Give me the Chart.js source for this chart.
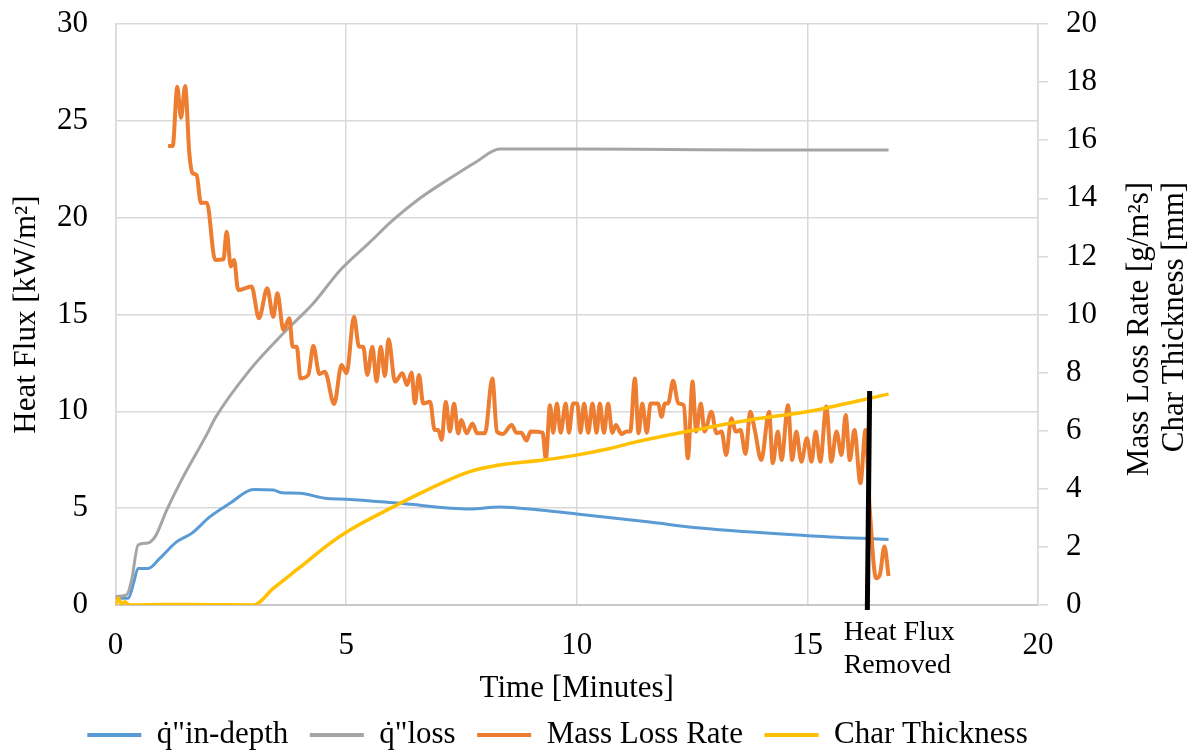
<!DOCTYPE html>
<html>
<head>
<meta charset="utf-8">
<title>Heat flux and mass loss rate</title>
<script src="https://cdn.jsdelivr.net/npm/chart.js@4/dist/chart.umd.min.js"></script>
<style>
  body { margin: 0; background: #fff; }
  #wrap { width: 1199px; height: 754px; position: relative; }
</style>
</head>
<body>
<div id="wrap"><canvas id="chart"></canvas></div>
<script>
// Data (time in minutes)
const inDepthTime = [0, 0.28, 0.39, 0.49, 0.71, 0.96, 1.33, 1.65, 2.05, 2.48, 2.99, 3.42, 3.6, 4.0, 4.54, 5.01, 6.17, 7.68, 8.33, 9.2, 10.0, 11.58, 12.67, 15.0, 16.76];
const inDepthFlux = [0.35, 0.35, 1.12, 1.89, 1.89, 2.41, 3.27, 3.7, 4.56, 5.25, 5.97, 5.94, 5.8, 5.77, 5.51, 5.46, 5.25, 4.96, 5.06, 4.9, 4.7, 4.28, 3.97, 3.58, 3.38];

const lossTime = [0, 0.24, 0.35, 0.49, 0.68, 0.86, 1.11, 1.43, 2.0, 2.16, 2.91, 3.64, 4.29, 4.87, 5.5, 6.02, 6.6, 7.25, 7.8, 8.33, 10, 12, 14, 16.76];
const lossFlux = [0.43, 0.52, 1.29, 3.1, 3.19, 3.53, 4.9, 6.45, 8.9, 9.65, 12.13, 14.03, 15.58, 17.29, 18.7, 19.88, 21.0, 22.03, 22.85, 23.54, 23.54, 23.52, 23.5, 23.5];

const mlrTime = [1.14,1.24,1.34,1.42,1.51,1.60,1.67,1.76,1.85,1.98,
  2.16,2.34,2.41,2.50,2.57,2.66,2.95,3.11,3.29,3.42,
  3.51,3.64,3.77,3.84,3.93,4.01,4.18,4.29,4.42,4.54,
  4.74,4.90,5.01,5.17,5.28,5.37,5.46,5.57,5.66,5.75,
  5.84,5.92,6.06,6.22,6.32,6.42,6.49,6.58,6.67,6.82,
  6.92,7.00,7.07,7.16,7.25,7.34,7.43,7.50,7.61,7.74,
  7.84,8.01,8.17,8.27,8.40,8.59,8.69,8.80,8.91,9.00,
  9.26,9.33,9.42,9.49,9.57,9.65,9.76,9.83,9.92,10.01,
  10.08,10.16,10.25,10.34,10.43,10.50,10.59,10.68,10.77,10.85,
  10.97,11.08,11.16,11.26,11.34,11.42,11.52,11.60,11.76,11.84,
  11.91,11.98,12.09,12.20,12.32,12.41,12.51,12.59,12.69,12.77,
  12.92,13.03,13.14,13.24,13.35,13.45,13.55,13.66,13.76,13.86,
  14.00,14.17,14.25,14.36,14.44,14.58,14.67,14.76,14.87,14.99,
  15.09,15.18,15.28,15.41,15.52,15.63,15.74,15.83,15.92,16.02,
  16.15,16.26,16.35,16.49,16.57,16.67,16.76];
const mlrRate = [15.80,15.80,17.84,16.77,17.87,15.56,14.87,14.80,13.84,13.85,
  11.88,11.90,12.85,11.65,11.88,10.84,10.96,9.87,10.90,9.92,
  10.73,9.47,9.87,8.89,8.89,7.80,7.92,8.92,7.95,8.03,
  6.92,8.26,7.98,9.92,8.89,8.89,7.92,8.89,7.69,8.89,
  7.88,9.15,7.69,7.98,7.57,8.00,6.94,7.92,6.94,7.00,
  6.02,6.02,5.68,7.00,5.97,6.94,5.91,6.37,5.91,6.25,
  5.91,5.91,7.80,5.97,5.89,6.20,5.93,5.93,5.66,5.97,
  5.93,5.02,6.88,5.93,6.94,5.93,6.94,5.93,6.94,6.94,
  5.93,6.94,5.93,6.94,5.93,6.94,5.93,6.94,5.93,6.20,
  5.89,5.97,5.97,7.80,5.91,6.94,5.93,6.94,6.94,6.48,
  6.94,6.94,7.72,6.94,6.88,5.05,7.69,5.97,6.94,5.97,
  6.65,5.91,5.97,5.16,6.43,5.97,6.02,5.20,6.65,6.02,
  4.99,6.65,4.88,5.97,4.99,6.88,4.99,5.97,4.93,5.74,
  4.93,5.97,4.93,6.83,4.93,5.97,5.16,6.54,4.99,6.02,
  4.19,6.02,3.38,0.92,1.03,2.01,1.00];

const charTime = [0, 0.06, 0.13, 0.2, 0.3, 1.0, 2.0, 2.99, 3.42, 4.0, 4.65, 5.08, 6.17, 6.38, 7.68, 8.33, 9.27, 9.99, 10.64, 11.22, 12.38, 13.75, 14.98, 16.76];
const charDepth = [0, 0.23, 0.03, 0.11, 0, 0.02, 0.01, 0, 0.57, 1.3, 2.12, 2.58, 3.5, 3.67, 4.59, 4.82, 4.99, 5.16, 5.36, 5.59, 5.97, 6.37, 6.65, 7.26];

// marker for the moment the heater was removed
const removedTime = [16.35, 16.30];
const removedLevel = [7.37, -0.17];

const xTicks = [0, 5, 10, 15, 20];

const FONT = "'Liberation Serif', 'Times New Roman', serif";
Chart.defaults.font.family = FONT;
Chart.defaults.font.size = 31;
Chart.defaults.color = '#000';

function points(xs, ys) {
  return xs.map((x, i) => ({ x: x, y: ys[i] }));
}

// y axes: don't let the tick padding push the plot area down
function noVerticalPadding(scale) {
  scale.paddingTop = 0;
  scale.paddingBottom = 0;
}

// Extra text: right axis titles and the annotation under the black line
const extraText = {
  id: 'extraText',
  afterDraw(chart) {
    const ctx = chart.ctx;
    const x = chart.scales.x;
    ctx.save();
    ctx.fillStyle = '#000';
    ctx.font = '31px ' + FONT;
    ctx.textAlign = 'center';
    ctx.textBaseline = 'middle';
    ctx.translate(1140, 329);
    ctx.rotate(-Math.PI / 2);
    ctx.fillText('Mass Loss Rate [g/m\u00b2s]', 0, 0);
    ctx.restore();

    ctx.save();
    ctx.fillStyle = '#000';
    ctx.font = '31px ' + FONT;
    ctx.textAlign = 'center';
    ctx.textBaseline = 'middle';
    ctx.translate(1175, 317);
    ctx.rotate(-Math.PI / 2);
    ctx.fillText('Char Thickness [mm]', 0, 0);
    ctx.restore();

    const lx = x.getPixelForValue(removedTime[0]) - 26;
    ctx.save();
    ctx.fillStyle = '#000';
    ctx.font = '28px ' + FONT;
    ctx.textAlign = 'left';
    ctx.textBaseline = 'alphabetic';
    ctx.fillText('Heat Flux', lx, 640);
    ctx.fillText('Removed', lx, 673);
    ctx.restore();
  }
};

new Chart(document.getElementById('chart'), {
  type: 'line',
  data: {
    datasets: [
      {
        label: 'q\u0307"in-depth',
        data: points(inDepthTime, inDepthFlux),
        borderColor: '#5b9bd5',
        backgroundColor: '#5b9bd5',
        borderWidth: 3,
        yAxisID: 'y',
        order: 4,
      },
      {
        label: 'q\u0307"loss',
        data: points(lossTime, lossFlux),
        borderColor: '#a5a5a5',
        backgroundColor: '#a5a5a5',
        borderWidth: 3,
        yAxisID: 'y',
        order: 3,
      },
      {
        label: 'Mass Loss Rate',
        data: points(mlrTime, mlrRate),
        borderColor: '#ed7d31',
        backgroundColor: '#ed7d31',
        borderWidth: 4,
        yAxisID: 'y1',
        order: 2,
      },
      {
        label: 'Char Thickness',
        data: points(charTime, charDepth),
        borderColor: '#ffc000',
        backgroundColor: '#ffc000',
        borderWidth: 3.5,
        yAxisID: 'y1',
        order: 1,
      },
      {
        label: 'removed',
        data: points(removedTime, removedLevel),
        borderColor: '#000',
        backgroundColor: '#000',
        borderWidth: 5,
        yAxisID: 'y1',
        order: 0,
        clip: false,
        cubicInterpolationMode: 'default',
        tension: 0,
      },
    ],
  },
  options: {
    responsive: true,
    maintainAspectRatio: false,
    animation: false,
    events: [],
    elements: {
      point: { radius: 0 },
      line: { cubicInterpolationMode: 'monotone', fill: false },
    },
    layout: { padding: { left: 0, right: 84, top: 24, bottom: -6.5 } },
    scales: {
      x: {
        type: 'linear',
        min: 0,
        max: 20,
        afterBuildTicks: axis => { axis.ticks = xTicks.map(v => ({ value: v })); },
        ticks: { padding: 22 },
        grid: { color: '#d9d9d9', lineWidth: 1.5, drawTicks: false },
        border: { color: '#c8c8c8', width: 2 },
        title: { display: true, text: 'Time [Minutes]', padding: { top: -15.8, bottom: -9.6 } },
      },
      y: {
        position: 'left',
        min: 0,
        max: 30,
        afterFit: noVerticalPadding,
        ticks: { stepSize: 5, padding: 27.5 },
        grid: { color: '#d9d9d9', lineWidth: 1.5, drawTicks: false },
        border: { color: '#d9d9d9', width: 1.5 },
        title: { display: true, text: 'Heat Flux [kW/m\u00b2]', padding: { top: 8.4, bottom: -16.1 } },
      },
      y1: {
        position: 'right',
        min: 0,
        max: 20,
        afterFit: noVerticalPadding,
        ticks: { stepSize: 2, padding: 18 },
        grid: { drawOnChartArea: false, color: '#d9d9d9', lineWidth: 1.5, tickLength: 10 },
        border: { color: '#d9d9d9', width: 1.5 },
      },
    },
    plugins: {
      tooltip: { enabled: false },
      legend: {
        position: 'bottom',
        labels: {
          boxWidth: 54,
          boxHeight: 4,
          padding: 21.5,
          generateLabels: chart => chart.data.datasets.slice(0, 4).map((ds, i) => ({
            text: ds.label,
            fillStyle: ds.borderColor,
            strokeStyle: ds.borderColor,
            lineWidth: 0,
            hidden: false,
            datasetIndex: i,
          })),
        },
      },
    },
  },
  plugins: [extraText],
});
</script>
</body>
</html>
